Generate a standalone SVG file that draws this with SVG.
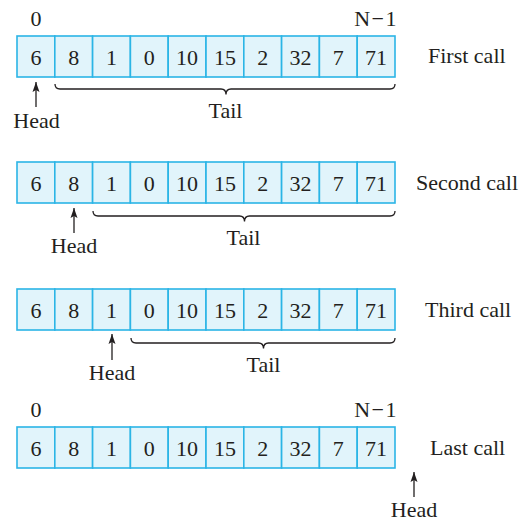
<svg xmlns="http://www.w3.org/2000/svg" width="522" height="522" viewBox="0 0 522 522">
<style>
text{font-family:"Liberation Serif","Times New Roman",serif;font-size:22px;fill:#231f20}
.c{fill:#e1f4fb;stroke:#2bb5e6;stroke-width:1.6}
.v{text-anchor:middle}
.br{fill:none;stroke:#231f20;stroke-width:1.3}
.ar{stroke:#231f20;stroke-width:1.3;marker-end:url(#ah)}
</style>
<defs>
<marker id="ah" viewBox="0 0 10 10" refX="10" refY="5" markerWidth="10" markerHeight="10" markerUnits="userSpaceOnUse" orient="auto">
<path d="M0,1.5 L10,5 L0,8.5 L2,5 Z" fill="#231f20"/>
</marker>
<g id="cells">
<rect class="c" x="17" y="0" width="37.8" height="41"/>
<rect class="c" x="54.8" y="0" width="37.8" height="41"/>
<rect class="c" x="92.6" y="0" width="37.8" height="41"/>
<rect class="c" x="130.4" y="0" width="37.8" height="41"/>
<rect class="c" x="168.2" y="0" width="37.8" height="41"/>
<rect class="c" x="206" y="0" width="37.8" height="41"/>
<rect class="c" x="243.8" y="0" width="37.8" height="41"/>
<rect class="c" x="281.6" y="0" width="37.8" height="41"/>
<rect class="c" x="319.4" y="0" width="37.8" height="41"/>
<rect class="c" x="357.2" y="0" width="37.8" height="41"/>
<text class="v" x="35.9" y="28.5">6</text>
<text class="v" x="73.7" y="28.5">8</text>
<text class="v" x="111.5" y="28.5">1</text>
<text class="v" x="149.3" y="28.5">0</text>
<text class="v" x="187.1" y="28.5">10</text>
<text class="v" x="224.9" y="28.5">15</text>
<text class="v" x="262.7" y="28.5">2</text>
<text class="v" x="300.5" y="28.5">32</text>
<text class="v" x="338.3" y="28.5">7</text>
<text class="v" x="376.1" y="28.5">71</text>
</g>
</defs>

<g id="first-call">
<text class="v" x="36" y="26">0</text>
<text x="398" y="26" text-anchor="end" letter-spacing="1.5">N−1</text>
<use href="#cells" y="36"/>
<text x="428" y="63">First call</text>
</g>
<g id="second-call">
<use href="#cells" y="162"/>
<text x="416" y="190">Second call</text>
</g>
<g id="third-call">
<use href="#cells" y="289"/>
<text x="425" y="317">Third call</text>
</g>
<g id="last-call">
<text class="v" x="36" y="417">0</text>
<text x="398" y="417" text-anchor="end" letter-spacing="1.5">N−1</text>
<use href="#cells" y="427"/>
<text x="430" y="455">Last call</text>
</g>

<g id="head-labels">
<text class="v" x="36.5" y="128">Head</text>
<text class="v" x="74" y="253">Head</text>
<text class="v" x="112" y="380">Head</text>
<text class="v" x="414" y="517">Head</text>
</g>
<g id="tail-labels">
<text class="v" x="225.5" y="118">Tail</text>
<text class="v" x="243.5" y="245">Tail</text>
<text class="v" x="263.5" y="372">Tail</text>
</g>

<g id="connectors">
<line class="ar" x1="36" y1="107" x2="36" y2="82"/>
<line class="ar" x1="74" y1="233" x2="74" y2="208"/>
<line class="ar" x1="112" y1="360" x2="112" y2="334"/>
<line class="ar" x1="414" y1="497" x2="414" y2="472"/>
<path class="br" d="M55,84 q0,5 5,5 H221 q5,0 5,5.5 q0,-5.5 5,-5.5 H390 q5,0 5,-5"/>
<path class="br" d="M93,211 q0,5 5,5 H239.5 q5,0 5,5.5 q0,-5.5 5,-5.5 H390 q5,0 5,-5"/>
<path class="br" d="M131,338 q0,5 5,5 H258.5 q5,0 5,5.5 q0,-5.5 5,-5.5 H390 q5,0 5,-5"/>
</g>
</svg>
